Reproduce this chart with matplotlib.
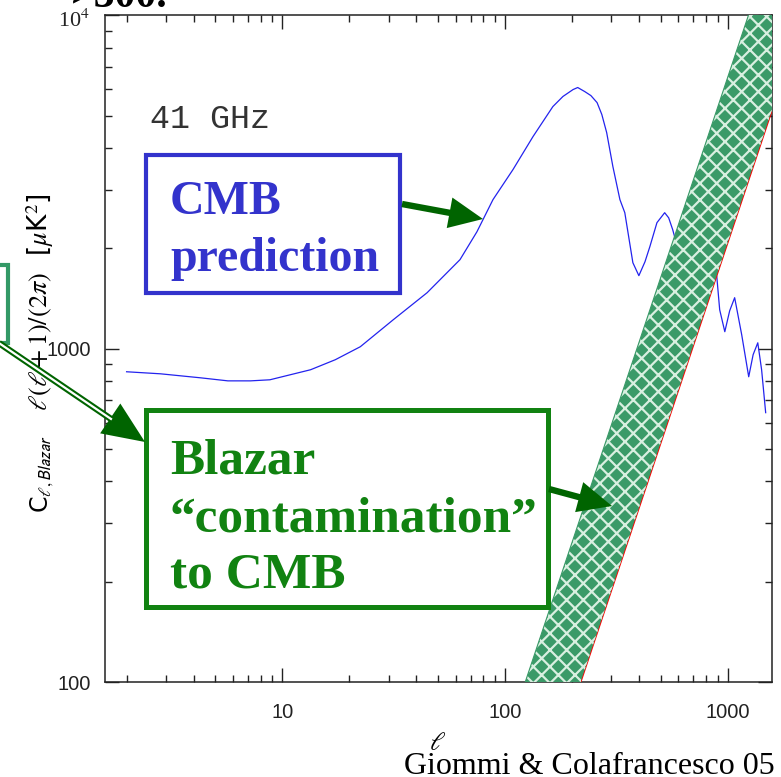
import numpy as np
import matplotlib.pyplot as plt
from matplotlib.lines import Line2D
from matplotlib.patches import Rectangle, Polygon
from matplotlib.ticker import NullFormatter
from matplotlib.transforms import Affine2D, blended_transform_factory, offset_copy

plt.rcParams['mathtext.fontset'] = 'stix'
plt.rcParams['hatch.linewidth'] = 1.6

# CMB prediction at 41 GHz, l(l+1)C_l/(2 pi) in uK^2
ell_cmb = [2, 2.84, 4.3, 5.7, 7.2, 8.8, 13.4, 17.3, 22.4, 31.5, 44.7, 62.8, 74.8,
           88.3, 108.6, 133.6, 164, 182, 202, 212, 228, 243, 259, 272, 286, 305,
           328, 345, 375, 399, 425, 447, 481, 521, 543, 566, 609, 650, 700, 760,
           810, 850, 893, 920, 970, 1020, 1074, 1155, 1242, 1300, 1364, 1419,
           1480]
cl_cmb = [853, 841, 818, 801, 801, 807, 865, 927, 1014, 1222, 1473, 1851, 2244,
          2802, 3449, 4333, 5330, 5715, 5994, 6080, 5912, 5750, 5478, 5047, 4454,
          3521, 2802, 2560, 1812, 1657, 1824, 2025, 2390, 2560, 2471, 2277, 1900,
          1700, 1750, 2050, 2150, 1950, 1645, 1309, 1125, 1300, 1423, 1102, 824,
          960, 1042, 865, 643]

# flat (Poisson) blazar C_l, lower and upper bound, uK^2 sr
blazar_cl = [0.0131, 0.041]

xticks = [10, 100, 1000]
xtick_labels = ['10', '100', '1000']
yticks = [100, 1000, 10000]
ytick_labels = ['100', '1000', '']

W, H = 781, 777
fig = plt.figure(figsize=(W / 100, H / 100), dpi=100)
# pixel coordinates, origin top-left
pix = Affine2D().scale(1 / W, -1 / H).translate(0, 1) + fig.transFigure

ax = fig.add_axes([105 / W, 1 - 682 / H, (772 - 105) / W, (682 - 15.5) / H])
ax.set_xscale('log')
ax.set_yscale('log')
ax.set_xlim(1.6, 1580)
ax.set_ylim(100, 10000)

ax.plot(ell_cmb, cl_cmb, color='#2323ee', lw=0.9, zorder=2)

ell = np.geomspace(100, 2000, 300)
norm = ell * (ell + 1) / (2 * np.pi)
lo, hi = blazar_cl[0] * norm, blazar_cl[1] * norm
ax.plot(ell, lo, color='red', lw=1.3, zorder=3)
ax.fill_between(ell, lo, hi, facecolor='#3a9a68', edgecolor='#d8efe0',
                hatch='xx', lw=0, zorder=4)
ax.plot(ell, hi, color='#3a9a68', lw=0.8, zorder=5)

ax.set_xticks(xticks, labels=xtick_labels)
ax.set_yticks(yticks, labels=ytick_labels)
ax.xaxis.set_minor_formatter(NullFormatter())
ax.yaxis.set_minor_formatter(NullFormatter())
ax.tick_params(which='both', direction='in', top=True, right=True, width=1,
               colors='#222222', labelsize=14.5,
               labelfontfamily='Liberation Sans')
ax.tick_params(which='major', length=10)
ax.tick_params(which='minor', length=5)
ax.tick_params(axis='x', pad=15)
ax.tick_params(axis='y', pad=10)
for s in ax.spines.values():
    s.set_linewidth(1.1)
    s.set_color('#222222')

# top y tick label drawn in serif with a superscript
ylab_tr = offset_copy(blended_transform_factory(ax.transAxes, ax.transData),
                      fig=fig, x=0, y=-4, units='points')
ax.text(-0.022, yticks[2], '10$^4$', transform=ylab_tr, ha='right',
        va='center', family='Liberation Serif', fontsize=16, color='#222222')

ax.text(150, 128, '41 GHz', transform=pix, family='Liberation Mono',
        fontsize=24, color='#333333', va='baseline')

# axis titles
fig.text(40, 302, r'$\ell(\ell+1)/(2\pi)$  [$\mu$K$^2$]', transform=pix,
         rotation=90, ha='center', va='center', fontsize=19)
fig.text(42, 474, r'C$_{\ell,\mathsf{Blazar}}$', transform=pix, rotation=90,
         ha='center', va='center', fontsize=17, family='DejaVu Sans')
fig.text(438, 743, r'$\ell$', transform=pix, ha='center', va='center',
         fontsize=19)
fig.text(775, 774, 'Giommi & Colafrancesco 05', transform=pix, ha='right',
         va='baseline', family='Liberation Serif', fontsize=23)
fig.text(168, 7, '>300.', transform=pix, ha='right', va='baseline',
         family='Liberation Serif', weight='bold', fontsize=30)

# labelled boxes
blue = '#3333cc'
green = '#118211'
dark = '#006400'
fig.add_artist(Rectangle((146, 155), 254, 138, transform=pix, fill=False,
                         ec=blue, lw=3))
fig.text(170, 214, 'CMB', transform=pix, family='Liberation Serif',
         weight='bold', fontsize=34.5, color=blue, va='baseline')
fig.text(170, 271, 'prediction', transform=pix, family='Liberation Serif',
         weight='bold', fontsize=34.5, color=blue, va='baseline')

fig.add_artist(Rectangle((146, 410), 402, 197, transform=pix, fill=False,
                         ec=green, lw=3.6))
for txt, yb in [('Blazar', 474), ('\u201ccontamination\u201d', 531),
                ('to CMB', 588)]:
    fig.text(170, yb, txt, transform=pix, family='Liberation Serif',
             weight='bold', fontsize=37, color=green, va='baseline')

fig.add_artist(Rectangle((-60, 265), 68, 78, transform=pix, fill=False,
                         ec='#339966', lw=3))


def arrow(tail, tip, lw, head_len, head_w, color, double=False):
    tail, tip = np.asarray(tail, float), np.asarray(tip, float)
    u = (tip - tail) / np.hypot(*(tip - tail))
    n = np.array([-u[1], u[0]])
    base = tip - head_len * u
    end = base + 2 * u
    fig.add_artist(Line2D([tail[0], end[0]], [tail[1], end[1]], transform=pix,
                          color=color, lw=lw, solid_capstyle='butt'))
    if double:
        fig.add_artist(Line2D([tail[0], end[0]], [tail[1], end[1]],
                              transform=pix, color='white', lw=lw * 0.35,
                              solid_capstyle='butt'))
    head = [tip, base + n * head_w / 2, base - n * head_w / 2]
    fig.add_artist(Polygon(head, closed=True, transform=pix, fc=color,
                           ec='none'))


arrow((402, 204), (483, 219), 4.6, 34, 31, dark)
arrow((549, 489), (612, 506), 4.6, 34, 31, dark)
arrow((-10, 337), (145, 442), 4.6, 42, 36, dark, double=True)

fig.savefig('out.png', dpi=100)
